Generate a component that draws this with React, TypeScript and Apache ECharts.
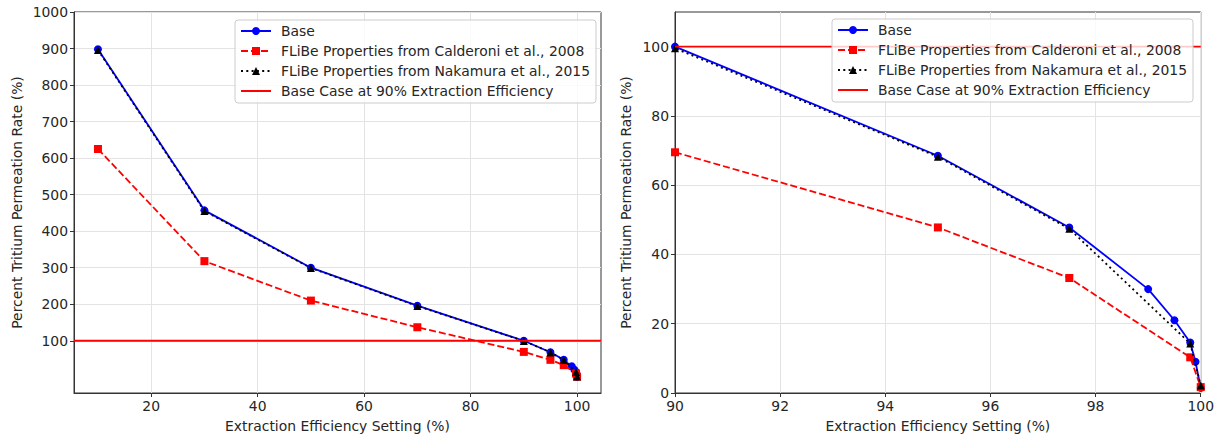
import React, { useEffect, useRef } from "react";
import * as echarts from "echarts";

// ---- data ----
const baseX = [10, 30, 50, 70, 90, 95, 97.5, 99, 99.5, 99.8, 99.9, 100];
const baseY = [898, 457, 300, 196, 100, 68.5, 47.8, 30, 21, 14.6, 9, 1.5];
const calderoniX = [10, 30, 50, 70, 90, 95, 97.5, 99.8, 100];
const calderoniY = [625, 318, 210, 137, 69.5, 47.8, 33.2, 10.3, 1.7];
const nakamuraX = [10, 30, 50, 70, 90, 95, 97.5, 99.8, 100];
const nakamuraY = [896, 455, 299, 195, 99.5, 68.2, 47.4, 14.3, 2.2];
const baseCaseLevel = 100;

const leftXLim = [5.5, 104.5];
const leftYLim = [-43, 1000];
const leftXTicks = [20, 40, 60, 80, 100];
const leftYTicks = [100, 200, 300, 400, 500, 600, 700, 800, 900, 1000];

const rightXLim = [90, 100];
const rightYLim = [0, 110];
const rightXTicks = [90, 92, 94, 96, 98, 100];
const rightYTicks = [0, 20, 40, 60, 80, 100];

const names = [
  "Base",
  "FLiBe Properties from Calderoni et al., 2008",
  "FLiBe Properties from Nakamura et al., 2015",
  "Base Case at 90% Extraction Efficiency",
];

const xTitle = "Extraction Efficiency Setting (%)";
const yTitle = "Percent Tritium Permeation Rate (%)";

const FONT = "DejaVu Sans";
const FS = 13.9;
const TEXT = "#262626";
const AXIS = "#333333";
const GRIDLINE = "#e3e3e3";

const zip = (xs: number[], ys: number[]) => xs.map((x, i) => [x, ys[i]]);
const plain = (v: number) => String(v);

function xAxis(grid: number, lim: number[], ticks: number[]) {
  return {
    type: "value",
    gridIndex: grid,
    min: lim[0],
    max: lim[1],
    name: xTitle,
    nameLocation: "middle",
    nameGap: 26,
    nameTextStyle: { fontFamily: FONT, fontSize: FS, color: TEXT },
    axisLine: { show: true, onZero: false, lineStyle: { color: AXIS, width: 1 } },
    axisTick: { show: true, length: 4, customValues: ticks, lineStyle: { color: AXIS } },
    axisLabel: { customValues: ticks, formatter: plain, margin: 6, fontFamily: FONT, fontSize: FS, color: TEXT },
    splitLine: { show: true, lineStyle: { color: GRIDLINE, width: 1 } },
  };
}

function yAxis(grid: number, lim: number[], ticks: number[], gap: number) {
  return {
    type: "value",
    gridIndex: grid,
    min: lim[0],
    max: lim[1],
    name: yTitle,
    nameLocation: "middle",
    nameGap: gap,
    nameTextStyle: { fontFamily: FONT, fontSize: FS, color: TEXT },
    axisLine: { show: true, onZero: false, lineStyle: { color: AXIS, width: 1 } },
    axisTick: { show: true, length: 4, customValues: ticks, lineStyle: { color: AXIS } },
    axisLabel: { customValues: ticks, formatter: plain, margin: 6, fontFamily: FONT, fontSize: FS, color: TEXT },
    splitLine: { show: true, lineStyle: { color: GRIDLINE, width: 1 } },
  };
}

function seriesFor(idx: number, xlim: number[]) {
  return [
    {
      name: names[0],
      type: "line",
      xAxisIndex: idx,
      yAxisIndex: idx,
      data: zip(baseX, baseY),
      symbol: "circle",
      symbolSize: 8,
      itemStyle: { color: "#0000ff" },
      lineStyle: { color: "#0000ff", width: 1.8, type: "solid" },
      z: 2,
    },
    {
      name: names[1],
      type: "line",
      xAxisIndex: idx,
      yAxisIndex: idx,
      data: zip(calderoniX, calderoniY),
      symbol: "rect",
      symbolSize: 8,
      itemStyle: { color: "#ff0000" },
      lineStyle: { color: "#ff0000", width: 1.8, type: [7, 3] },
      z: 3,
    },
    {
      name: names[2],
      type: "line",
      xAxisIndex: idx,
      yAxisIndex: idx,
      data: zip(nakamuraX, nakamuraY),
      symbol: "triangle",
      symbolSize: 8,
      itemStyle: { color: "#000000" },
      lineStyle: { color: "#000000", width: 1.8, type: [2, 3.3] },
      z: 4,
    },
    {
      name: names[3],
      type: "line",
      xAxisIndex: idx,
      yAxisIndex: idx,
      data: [
        [xlim[0], baseCaseLevel],
        [xlim[1], baseCaseLevel],
      ],
      symbol: "none",
      showSymbol: false,
      itemStyle: { color: "#ff0000" },
      lineStyle: { color: "#ff0000", width: 1.8, type: "solid" },
      z: 5,
    },
  ];
}

function legendAt(left: number, top: number) {
  return {
    show: true,
    orient: "vertical",
    left,
    top,
    data: [
      { name: names[0] },
      { name: names[1] },
      { name: names[2] },
      { name: names[3], itemStyle: { opacity: 0 } },
    ],
    itemWidth: 30,
    itemHeight: 10,
    itemGap: 6,
    padding: [4, 6, 5, 5],
    backgroundColor: "rgba(255,255,255,0.8)",
    borderColor: "#cccccc",
    borderWidth: 1,
    borderRadius: 3,
    selectedMode: false,
    textStyle: { fontFamily: FONT, fontSize: FS, color: TEXT, padding: [0, 0, 0, 5] },
    z: 10,
  };
}

export default function App() {
  const ref = useRef<HTMLDivElement>(null);
  useEffect(() => {
    if (!ref.current) return;
    const chart = echarts.init(ref.current, undefined, { renderer: "svg" });
    chart.setOption({
      animation: false,
      backgroundColor: "#ffffff",
      textStyle: { fontFamily: FONT },
      grid: [
        { left: 74, top: 12, width: 527, height: 381, show: true, borderColor: AXIS, borderWidth: 1, backgroundColor: "transparent" },
        { left: 675, top: 12, width: 526, height: 381, show: true, borderColor: AXIS, borderWidth: 1, backgroundColor: "transparent" },
      ],
      xAxis: [xAxis(0, leftXLim, leftXTicks), xAxis(1, rightXLim, rightXTicks)],
      yAxis: [yAxis(0, leftYLim, leftYTicks, 50), yAxis(1, rightYLim, rightYTicks, 42)],
      legend: [legendAt(235, 20), legendAt(832, 19)],
      series: [...seriesFor(0, leftXLim), ...seriesFor(1, rightXLim)],
    });
    return () => chart.dispose();
  }, []);
  return (
    <div
      ref={ref}
      style={{ position: "fixed", left: 0, top: 0, width: 1217, height: 440, background: "#fff" }}
    />
  );
}
